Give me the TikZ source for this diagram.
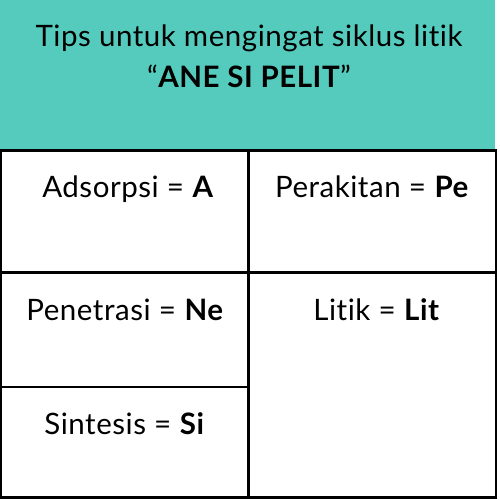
\documentclass[tikz,border=0pt]{standalone}
\usepackage{fontspec}
\setmainfont{Lato}[Ligatures={NoCommon,NoRequired},LetterSpace=1.8]
\definecolor{headteal}{HTML}{55CBBE}
\begin{document}
\begin{tikzpicture}[x=1pt,y=-1pt,
  txt/.style={anchor=base,inner sep=0pt,font=\fontsize{29.5}{34}\selectfont,text=black},
  grid/.style={line width=2.4pt,draw=black}]
\useasboundingbox (0,0) rectangle (500,500);
\fill[headteal] (0,0) rectangle (495,150.5);
% named corners
\coordinate (tl) at (1,150.5);
\coordinate (tr) at (496,150.5);
\coordinate (bl) at (1,497.5);
\coordinate (br) at (496,497.5);
\coordinate (vt) at (248.5,150.5);
\coordinate (vb) at (248.5,497.5);
\coordinate (hl) at (1,272.5);
\coordinate (hr) at (496,272.5);
\coordinate (sl) at (1,387);
\coordinate (sr) at (248.5,387);
\draw[grid] (tl) -- (tr) -- (br) -- (bl) -- cycle;
\draw[grid] (vt) -- (vb);
\draw[grid] (hl) -- (hr);
\draw[grid] (sl) -- (sr);
\node[txt] (title1) at (249,47) {Tips untuk mengingat siklus litik};
\node[txt] (title2) at (249,88) {“\textbf{ANE SI PELIT}”};
\node[txt] (a) at (128,197) {Adsorpsi = \textbf{A}};
\node[txt] (pe) at (372,197) {Perakitan = \textbf{Pe}};
\node[txt] (ne) at (125,320) {Penetrasi = \textbf{Ne}};
\node[txt] (lit) at (376.5,320) {Litik = \textbf{Lit}};
\node[txt] (si) at (124.5,434) {Sintesis = \textbf{Si}};
\end{tikzpicture}
\end{document}
